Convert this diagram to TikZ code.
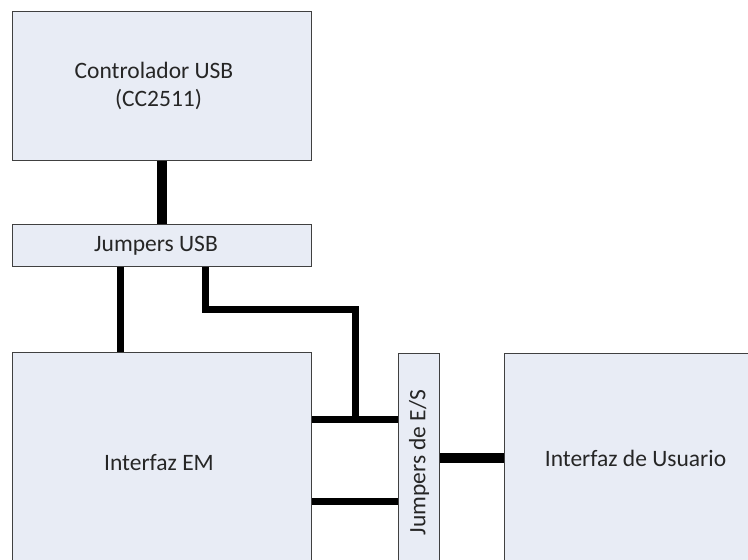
\documentclass[tikz,border=0pt]{standalone}
\usepackage{fontspec}
\setmainfont{Carlito}
\begin{document}
\begin{tikzpicture}[x=1pt,y=-1pt,
  blk/.style={draw=boxline, line width=1pt, fill=boxfill, anchor=north west, inner sep=0pt, text=txt, align=center,
    font=\fontsize{23.5}{28}\selectfont},
  wire/.style={line width=7pt, line join=miter, black},
  fatwire/.style={line width=10.5pt, line join=miter, black}]
\definecolor{boxfill}{HTML}{E8ECF5}
\definecolor{boxline}{HTML}{404040}
\definecolor{txt}{HTML}{262626}
\useasboundingbox (0,0) rectangle (748,560);
\clip (0,0) rectangle (748,560);
\fill[white] (0,0) rectangle (748,560);
\node[blk, minimum width=299pt, minimum height=149pt] (ctrl) at (12,11) {Controlador USB\kern16pt\\(CC2511)\kern7pt};
\node[blk, minimum width=299pt, minimum height=42pt] (jusb) at (12,224) {Jumpers USB\kern12pt};
\node[blk, minimum width=299pt, minimum height=220pt] (em) at (12,352) {Interfaz EM\kern6pt};
\node[blk, minimum width=41pt, minimum height=218pt] (jes) at (398,353) {\rotatebox{90}{Jumpers de E/S}};
\node[blk, minimum width=262pt, minimum height=210pt] (usr) at (504,353) {Interfaz de Usuario};
\coordinate (xa) at (120,0);
\coordinate (xb) at (205,0);
\coordinate (bend) at (355,309);
\coordinate (yu) at (0,419);
\coordinate (yl) at (0,501);
\coordinate (ym) at (0,458);
\draw[fatwire] (ctrl.south) -- (jusb.north);
\draw[wire] (jusb.south -| xa) -- (em.north -| xa);
\draw[wire] (jusb.south -| xb) |- (bend) -- (bend |- yu);
\draw[wire] (em.east |- yu) -- (jes.west |- yu);
\draw[wire] (em.east |- yl) -- (jes.west |- yl);
\draw[fatwire] (jes.east |- ym) -- (usr.west |- ym);
\end{tikzpicture}
\end{document}
